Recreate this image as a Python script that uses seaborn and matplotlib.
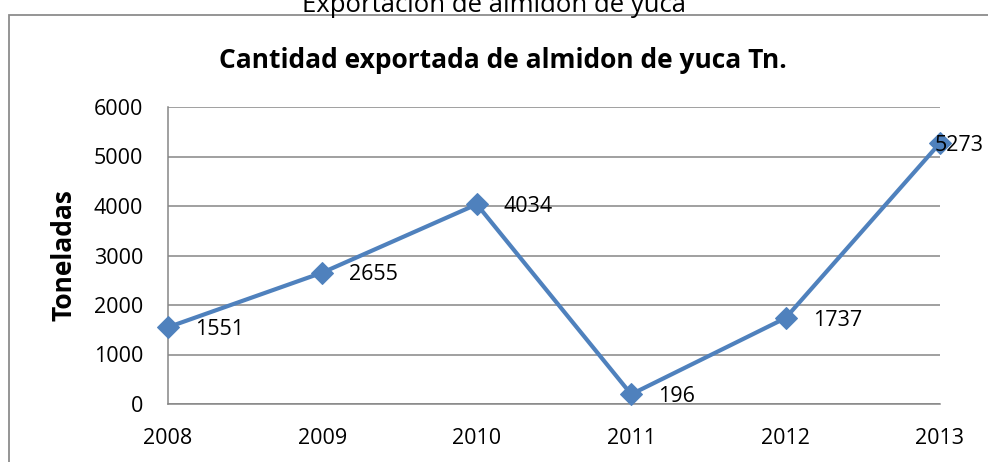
import matplotlib
matplotlib.use("Agg")
import matplotlib.pyplot as plt
import seaborn as sns
import pandas as pd
from matplotlib.patches import Rectangle

years = [2008, 2009, 2010, 2011, 2012, 2013]
toneladas = [1551, 2655, 4034, 196, 1737, 5273]
y_ticks = [0, 1000, 2000, 3000, 4000, 5000, 6000]

outer_title = "Exportación de almidón de yuca"
chart_title = "Cantidad exportada de almidon de yuca Tn."
y_label = "Toneladas"

sns.set_theme(style="white")
plt.rcParams['font.family'] = ['Open Sans', 'DejaVu Sans']

W, H = 988, 462
fig = plt.figure(figsize=(W / 100, H / 100), dpi=100)
ax = fig.add_axes([168 / W, 58 / H, (940 - 168) / W, (404 - 107) / H])

df = pd.DataFrame({"year": years, "t": toneladas})
sns.lineplot(data=df, x="year", y="t", ax=ax, color="#4F81BD", linewidth=3.0,
             marker="D", markersize=11, markeredgecolor="#4F81BD", clip_on=False, zorder=5)

ax.set_xlim(years[0], years[-1])
ax.set_ylim(0, 6000)
ax.set_xticks(years)
ax.set_xticklabels([str(y) for y in years])
ax.set_yticks(y_ticks)
ax.set_yticklabels([str(v) for v in y_ticks])
ax.tick_params(axis="both", length=0, labelsize=15.5, colors="black")
ax.tick_params(axis="y", pad=18)
ax.tick_params(axis="x", pad=17)
ax.grid(axis="y", color="#868686", linewidth=1.1)
ax.set_axisbelow(True)
for s in ["top", "right"]:
    ax.spines[s].set_visible(False)
for s in ["left", "bottom"]:
    ax.spines[s].set_color("#868686")
    ax.spines[s].set_linewidth(1.1)

ax.set_xlabel("")
ax.set_ylabel("")

for i, (x, v) in enumerate(zip(years, toneladas)):
    if i == len(years) - 1:
        off = (-3.6, -2.0)
    else:
        off = (19.5, -1.5)
    ax.annotate(str(v), (x, v), xytext=off, textcoords="offset points",
                ha="left", va="center", fontsize=15.5, color="black",
                annotation_clip=False, zorder=6)

fig.text(64 / W, (H - 255) / H, y_label, rotation=90, ha="center", va="center",
         fontsize=19, fontweight="bold", color="black")
fig.text(503 / W, (H - 60) / H, chart_title, ha="center", va="center",
         fontsize=19, fontweight="bold", color="black")
fig.text(494 / W, (H - 12) / H, outer_title, ha="center", va="baseline",
         fontsize=18.5, color="black")

fig.patches.append(Rectangle((9 / W, -0.1), 1.2, (H - 15) / H + 0.1,
                             transform=fig.transFigure, fill=False,
                             edgecolor="#8c8c8c", linewidth=1.3))

fig.savefig("out.png", dpi=100)
